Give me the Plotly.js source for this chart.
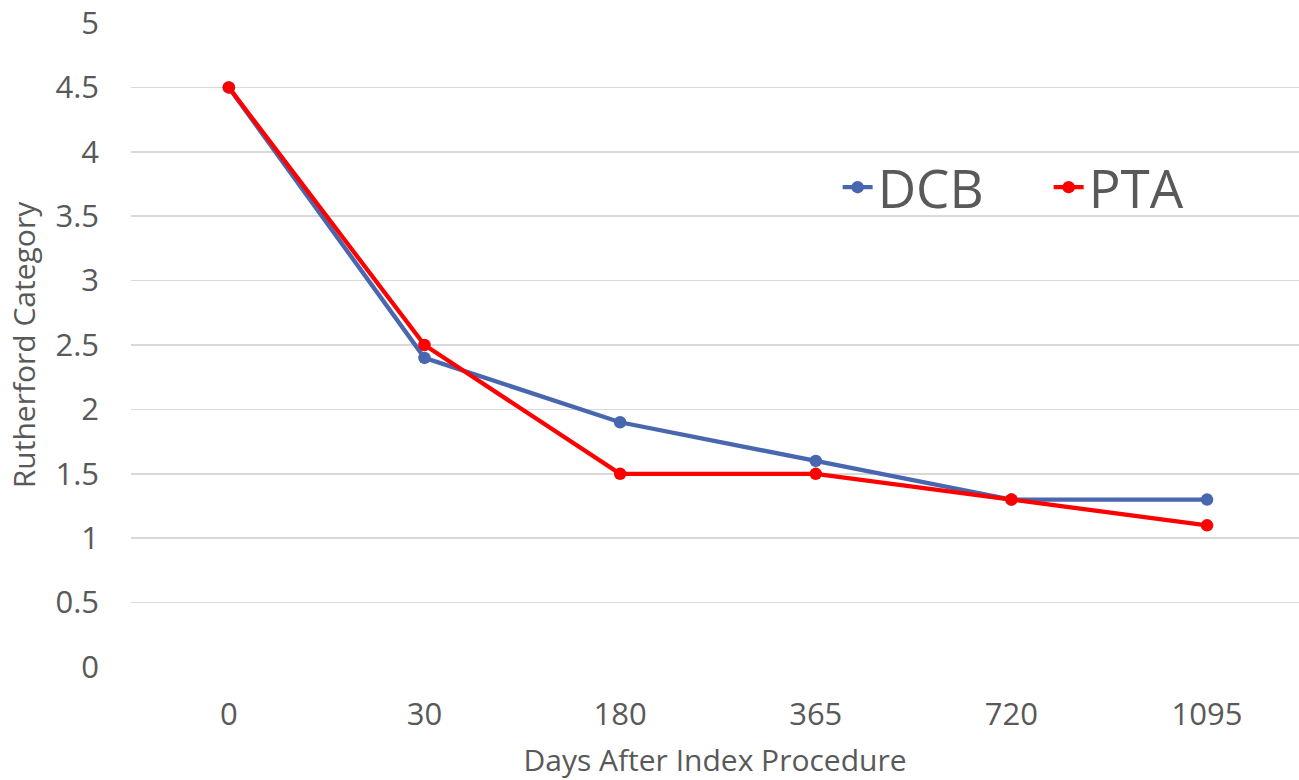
<!DOCTYPE html>
<html>
<head>
<meta charset="utf-8">
<script src="https://cdn.plot.ly/plotly-3.0.1.min.js"></script>
<style>
  html, body { margin: 0; padding: 0; background: #fff; }
  #chart { width: 1299px; height: 780px; }
</style>
</head>
<body>
<div id="chart"></div>
<script>
// Follow-up time points (days) and mean Rutherford category per arm
const days = ["0", "30", "180", "365", "720", "1095"];
const dcb = [4.5, 2.4, 1.9, 1.6, 1.3, 1.3];
const pta = [4.5, 2.5, 1.5, 1.5, 1.3, 1.1];
const yTicks = [0, 0.5, 1, 1.5, 2, 2.5, 3, 3.5, 4, 4.5, 5];

const textColor = "#595959";
const font = "Open Sans, sans-serif";

const traces = [
  {
    x: days, y: dcb, name: "DCB", type: "scatter", mode: "lines+markers",
    line: { color: "#4967AE", width: 4.3 },
    marker: { color: "#4967AE", size: 12.5 }
  },
  {
    x: days, y: pta, name: "PTA", type: "scatter", mode: "lines+markers",
    line: { color: "#FF0000", width: 4.3 },
    marker: { color: "#FF0000", size: 12.5 }
  }
];

const layout = {
  width: 1299, height: 780,
  margin: { l: 131, r: 0, t: 23, b: 113, autoexpand: false },
  paper_bgcolor: "#fff", plot_bgcolor: "#fff",
  font: { family: font, color: textColor, size: 31 },
  showlegend: true,
  legend: {
    orientation: "h", x: 0.605, y: 0.745, xanchor: "left", yanchor: "middle",
    font: { family: font, size: 53, color: textColor },
    bgcolor: "rgba(0,0,0,0)", itemwidth: 30, entrywidth: 166
  },
  xaxis: {
    type: "category", range: [-0.5, 5.47],
    showgrid: false, zeroline: false, showline: false, ticks: "",
    ticklabelstandoff: 26,
    tickfont: { family: font, size: 31, color: textColor },
    title: { text: "Days After Index Procedure", font: { family: font, size: 30, color: textColor }, standoff: 16 },
    fixedrange: true
  },
  yaxis: {
    range: [0, 5], tickvals: yTicks, ticktext: yTicks.map(String),
    showgrid: true, gridcolor: "#D9D9D9", gridwidth: 1.5,
    zeroline: false, showline: false, ticks: "",
    ticklabelstandoff: 31,
    tickfont: { family: font, size: 31, color: textColor },
    title: { text: "Rutherford Category", font: { family: font, size: 30, color: textColor }, standoff: 10 },
    fixedrange: true
  }
};

Plotly.newPlot("chart", traces, layout, { displayModeBar: false, staticPlot: true });
</script>
</body>
</html>
